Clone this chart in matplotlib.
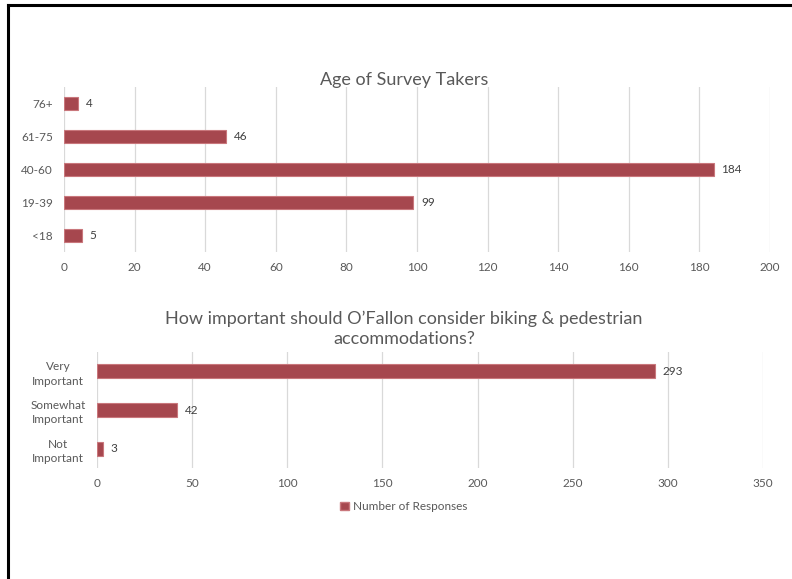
import matplotlib.pyplot as plt
from matplotlib.lines import Line2D
from matplotlib.patches import Patch

plt.rcParams['font.family'] = ['Lato', 'DejaVu Sans']

# Age of survey takers
age_groups = ["<18", "19-39", "40-60", "61-75", "76+"]
age_counts = [5, 99, 184, 46, 4]
age_ticks = [0, 20, 40, 60, 80, 100, 120, 140, 160, 180, 200]

# Importance of biking & pedestrian accommodations
importance = ["Not\nImportant", "Somewhat\nImportant", "Very\nImportant"]
importance_counts = [3, 42, 293]
importance_ticks = [0, 50, 100, 150, 200, 250, 300, 350]

bar_color = "#A6474E"
edge_color = "#C9777C"
text_color = "#595959"
grid_color = "#D9D9D9"


def style_axis(ax, ticks):
    ax.set_xlim(ticks[0], ticks[-1])
    ax.set_xticks(ticks)
    ax.grid(True, axis="x", color=grid_color, linewidth=0.9)
    ax.set_axisbelow(True)
    for s in ax.spines.values():
        s.set_visible(False)
    ax.tick_params(length=0, colors=text_color, labelsize=8.5)
    ax.tick_params(axis="x", pad=7)


def label_bars(ax, bars, values, offset):
    for b, v in zip(bars, values):
        ax.text(b.get_width() + offset, b.get_y() + b.get_height() / 2, str(v),
                va="center", ha="left", fontsize=8.5, color="#404040")


fig = plt.figure(figsize=(7.92, 5.79), dpi=100)

ax1 = fig.add_axes([0.0808, 0.5648, 0.8914, 0.285])
bars1 = ax1.barh(range(len(age_groups)), age_counts, height=0.37,
                 color=bar_color, edgecolor=edge_color, linewidth=0.8)
ax1.set_yticks(range(len(age_groups)))
ax1.set_yticklabels(age_groups)
ax1.tick_params(axis="y", pad=8)
ax1.set_ylim(-0.5, len(age_groups) - 0.5)
style_axis(ax1, age_ticks)
label_bars(ax1, bars1, age_counts, 2.2)
fig.text(0.5101, 0.8618, "Age of Survey Takers", ha="center", va="center",
         fontsize=13, color=text_color)

ax2 = fig.add_axes([0.1225, 0.1917, 0.8409, 0.2003])
bars2 = ax2.barh(range(len(importance)), importance_counts, height=0.36,
                 color=bar_color, edgecolor=edge_color, linewidth=0.8)
ax2.set_yticks(range(len(importance)))
ax2.set_yticklabels(importance, ha="center", linespacing=1.35)
ax2.set_ylim(-0.5, len(importance) - 0.5)
style_axis(ax2, importance_ticks)
ax2.tick_params(axis="y", pad=28)
label_bars(ax2, bars2, importance_counts, 4)
fig.text(0.5101, 0.4318, "How important should O\u2019Fallon consider biking & pedestrian\naccommodations?",
         ha="center", va="center", fontsize=13, color=text_color, linespacing=1.35)

fig.legend(handles=[Patch(facecolor=bar_color, edgecolor=edge_color)],
           labels=["Number of Responses"], loc="center", bbox_to_anchor=(0.51, 0.1244),
           frameon=False, fontsize=8.5, labelcolor=text_color,
           handlelength=0.7, handleheight=0.7, handletextpad=0.4)

# frame lines along the top and left edges
fig.add_artist(Line2D([0.0101, 1.0], [0.9914, 0.9914], color="black", linewidth=2.2,
                      transform=fig.transFigure))
fig.add_artist(Line2D([0.0101, 0.0101], [0.0, 0.9914], color="black", linewidth=2.2,
                      transform=fig.transFigure))

fig.savefig("out.png", dpi=100)
